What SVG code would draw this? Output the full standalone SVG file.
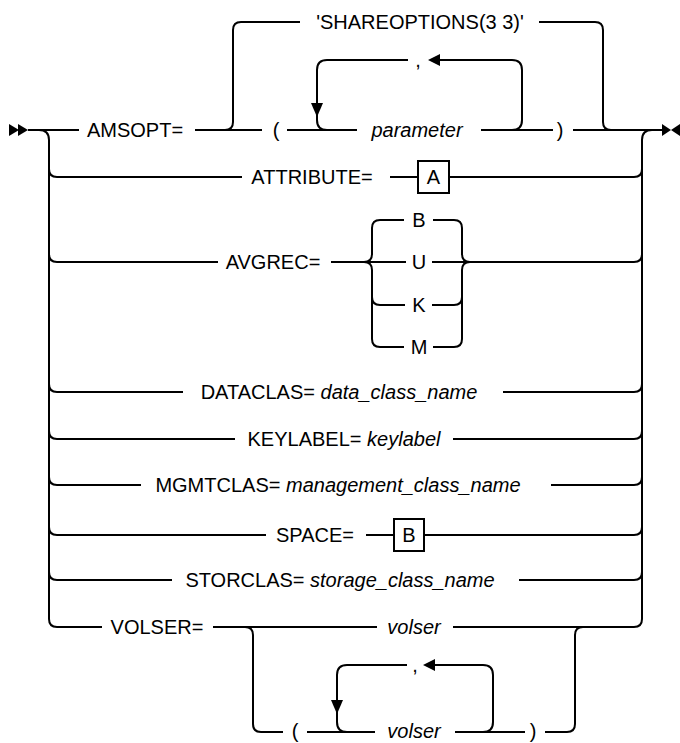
<svg xmlns="http://www.w3.org/2000/svg" width="680" height="743" viewBox="0 0 680 743">
<style>
  .ln{fill:none;stroke:#000;stroke-width:2}
  .ar{fill:#000;stroke:none}
  .t{font-family:"Liberation Sans",Arial,sans-serif;font-size:20px;fill:#000;text-anchor:middle}
  .i{font-style:italic}
  .box{fill:#fff;stroke:#000;stroke-width:2}
</style>
<g id="connectors">
  <polygon class="ar" points="9,124 19,130 9,136"/>
  <polygon class="ar" points="18,124 28,130 18,136"/>
  <polygon class="ar" points="662,124 671,130 662,136"/>
  <polygon class="ar" points="680,124 671,130 680,136"/>
  <path class="ln" d="M28,130 H79 M195,130 H262 M287,130 H357 M481,130 H553 M573,130 H662"/>
  <path class="ln" d="M225,130 q8,0 8,-8 V30 q0,-8 8,-8 H300 M539,22 H595 q8,0 8,8 V122 q0,8 8,8"/>
  <path class="ln" d="M327,130 q-10,0 -10,-10 V70 q0,-10 10,-10 H408 M440,60 H512 q10,0 10,10 V120 q0,10 -10,10"/>
  <polygon class="ar" points="428,60 440,54 440,66"/>
  <polygon class="ar" points="311,103 323,103 317,117"/>
  <path class="ln" d="M39,130 q10,0 10,10 V619 q0,8 8,8 H102"/>
  <path class="ln" d="M652,130 q-10,0 -10,10 V619 q0,8 -8,8"/>
  <path class="ln" d="M49,169 q0,8 8,8 H242 M390,177 H418 M449,177 H634 q8,0 8,-8"/>
  <path class="ln" d="M49,254 q0,8 8,8 H218 M331,262 H406 M432,262 H634 q8,0 8,-8"/>
  <path class="ln" d="M364,262 q8,0 8,-8 V228 q0,-8 8,-8 H404 M433,220 H454 q8,0 8,8 V254 q0,8 8,8"/>
  <path class="ln" d="M364,262 q8,0 8,8 V339 q0,8 8,8 H404 M433,347 H454 q8,0 8,-8 V270 q0,-8 8,-8"/>
  <path class="ln" d="M372,297 q0,8 8,8 H405 M432,305 H454 q8,0 8,-8"/>
  <path class="ln" d="M49,384 q0,8 8,8 H183 M503,392 H634 q8,0 8,-8"/>
  <path class="ln" d="M49,431 q0,8 8,8 H235 M453,439 H634 q8,0 8,-8"/>
  <path class="ln" d="M49,477 q0,8 8,8 H141 M551,485 H634 q8,0 8,-8"/>
  <path class="ln" d="M49,527 q0,8 8,8 H266 M366,535 H394 M424,535 H634 q8,0 8,-8"/>
  <path class="ln" d="M49,572 q0,8 8,8 H172 M519,580 H634 q8,0 8,-8"/>
  <path class="ln" d="M213,627 H377 M453,627 H634"/>
  <path class="ln" d="M245,627 q8,0 8,8 V724 q0,8 8,8 H283 M307,732 H375 M455,732 H525 M545,732 H567 q8,0 8,-8 V635 q0,-8 8,-8"/>
  <path class="ln" d="M347,732 q-10,0 -10,-10 V675 q0,-10 10,-10 H407 M435,665 H483 q10,0 10,10 V722 q0,10 -10,10"/>
  <polygon class="ar" points="423,665 435,659 435,671"/>
  <polygon class="ar" points="331,700 343,700 337,714"/>
</g>
<g id="node-amsopt"><text class="t" x="135" y="137">AMSOPT=</text></g>
<g id="node-shareoptions"><text class="t" x="420" y="29">'SHAREOPTIONS(3 3)'</text></g>
<g id="node-lparen1"><text class="t" x="276" y="137">(</text></g>
<g id="node-comma1"><text class="t" x="418" y="67">,</text></g>
<g id="node-parameter"><text class="t i" x="417" y="137">parameter</text></g>
<g id="node-rparen1"><text class="t" x="560" y="137">)</text></g>
<g id="node-attribute"><text class="t" x="312" y="184">ATTRIBUTE=</text></g>
<g id="node-boxA"><rect class="box" x="418" y="161" width="31" height="32"/><text class="t" x="433.5" y="184">A</text></g>
<g id="node-avgrec"><text class="t" x="273" y="269">AVGREC=</text></g>
<g id="node-B"><text class="t" x="419" y="227">B</text></g>
<g id="node-U"><text class="t" x="419" y="269">U</text></g>
<g id="node-K"><text class="t" x="419" y="312">K</text></g>
<g id="node-M"><text class="t" x="419" y="354">M</text></g>
<g id="node-dataclas"><text class="t" x="339" y="399">DATACLAS= <tspan class="i">data_class_name</tspan></text></g>
<g id="node-keylabel"><text class="t" x="344" y="446">KEYLABEL= <tspan class="i">keylabel</tspan></text></g>
<g id="node-mgmtclas"><text class="t" x="338" y="492">MGMTCLAS= <tspan class="i">management_class_name</tspan></text></g>
<g id="node-space"><text class="t" x="315" y="542">SPACE=</text></g>
<g id="node-boxB"><rect class="box" x="394" y="519" width="30" height="32"/><text class="t" x="409" y="542">B</text></g>
<g id="node-storclas"><text class="t" x="340" y="587">STORCLAS= <tspan class="i">storage_class_name</tspan></text></g>
<g id="node-volser-kw"><text class="t" x="157" y="634">VOLSER=</text></g>
<g id="node-volser1"><text class="t i" x="414" y="634">volser</text></g>
<g id="node-lparen2"><text class="t" x="295" y="738">(</text></g>
<g id="node-comma2"><text class="t" x="415" y="672">,</text></g>
<g id="node-volser2"><text class="t i" x="414" y="738">volser</text></g>
<g id="node-rparen2"><text class="t" x="533" y="738">)</text></g>
</svg>
